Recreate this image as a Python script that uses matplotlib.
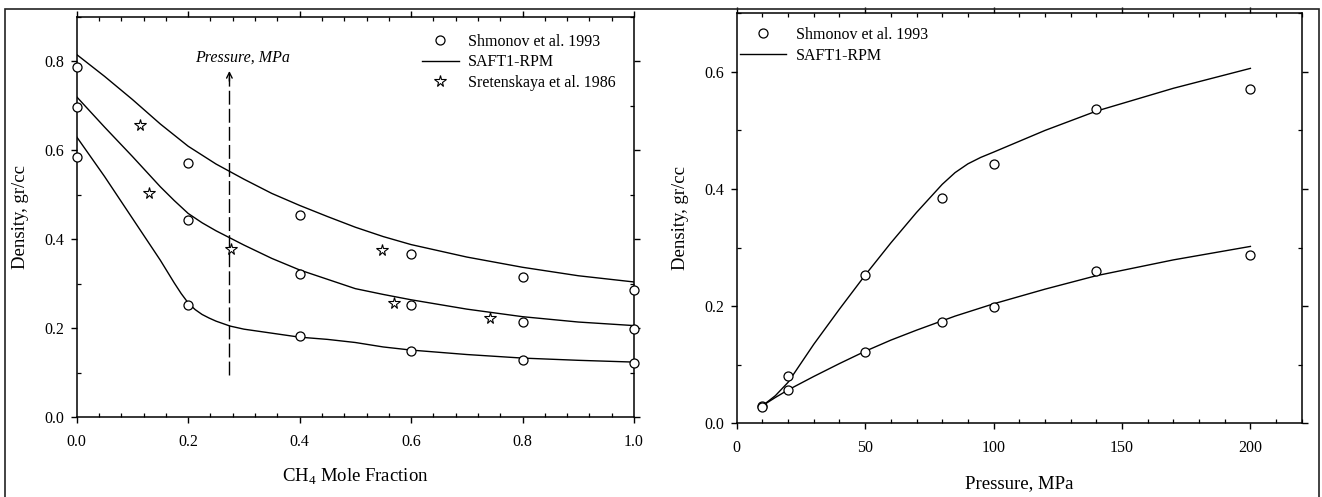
import matplotlib
matplotlib.use("Agg")
import matplotlib.pyplot as plt
from matplotlib.lines import Line2D
from matplotlib.patches import Rectangle
from matplotlib.ticker import MultipleLocator, FormatStrFormatter

plt.rcParams['font.family'] = ['Liberation Serif', 'DejaVu Serif']
plt.rcParams['mathtext.fontset'] = 'custom'
plt.rcParams['mathtext.rm'] = 'Liberation Serif'

# left panel: density vs CH4 mole fraction
x_exp = [0.0, 0.2, 0.4, 0.6, 0.8, 1.0]
rho_hi = [0.787, 0.571, 0.455, 0.366, 0.316, 0.286]
rho_mid = [0.696, 0.443, 0.321, 0.252, 0.214, 0.198]
rho_lo = [0.585, 0.253, 0.182, 0.148, 0.129, 0.121]

x_star = [0.113, 0.130, 0.277, 0.548, 0.570, 0.741]
rho_star = [0.657, 0.503, 0.379, 0.375, 0.256, 0.223]

x_hi = [0.0, 0.05, 0.1, 0.15, 0.2, 0.25, 0.3, 0.35, 0.4, 0.45, 0.5, 0.55, 0.6,
        0.7, 0.8, 0.9, 1.0]
saft_hi = [0.815, 0.766, 0.714, 0.659, 0.609, 0.569, 0.535, 0.503, 0.476, 0.451,
           0.427, 0.406, 0.388, 0.360, 0.337, 0.318, 0.304]

x_mid = [0.0, 0.05, 0.1, 0.15, 0.175, 0.2, 0.225, 0.25, 0.3, 0.35, 0.4, 0.45,
         0.5, 0.55, 0.6, 0.7, 0.8, 0.9, 1.0]
saft_mid = [0.720, 0.652, 0.586, 0.518, 0.487, 0.458, 0.437, 0.419, 0.387, 0.357,
            0.331, 0.310, 0.289, 0.276, 0.264, 0.243, 0.226, 0.214, 0.206]

x_lo = [0.0, 0.05, 0.1, 0.15, 0.175, 0.1875, 0.2, 0.2125, 0.225, 0.2375, 0.25,
        0.275, 0.3, 0.35, 0.4, 0.45, 0.5, 0.55, 0.6, 0.7, 0.8, 0.9, 1.0]
saft_lo = [0.630, 0.541, 0.447, 0.353, 0.302, 0.278, 0.257, 0.242, 0.231, 0.223,
           0.216, 0.205, 0.198, 0.189, 0.180, 0.175, 0.168, 0.158, 0.151, 0.141,
           0.133, 0.128, 0.124]

# right panel: density vs pressure
p_exp = [10, 20, 50, 80, 100, 140, 200]
dens_hi = [0.030, 0.080, 0.253, 0.385, 0.443, 0.536, 0.570]
dens_lo = [0.027, 0.056, 0.122, 0.173, 0.199, 0.260, 0.287]

p_model = [10, 15, 20, 30, 40, 50, 60, 70, 80, 85, 90, 95, 100, 120, 140, 170, 200]
model_hi = [0.030, 0.047, 0.070, 0.135, 0.195, 0.253, 0.308, 0.360, 0.408, 0.428,
            0.443, 0.454, 0.463, 0.500, 0.533, 0.572, 0.606]
model_lo = [0.030, 0.044, 0.057, 0.080, 0.102, 0.123, 0.142, 0.159, 0.175, 0.183,
            0.190, 0.197, 0.204, 0.229, 0.252, 0.279, 0.302]

fig = plt.figure(figsize=(13.22, 4.97), dpi=100)
ax1 = fig.add_axes([0.0580, 0.1604, 0.4216, 0.8060])
ax2 = fig.add_axes([0.5573, 0.1483, 0.4274, 0.8249])

fig.patches.append(Rectangle((0.0038, -0.01), 0.9939, 0.9919, transform=fig.transFigure,
                             fill=False, lw=1.2, ec='#222222'))

circ = dict(ls='none', marker='o', ms=6.5, mfc='white', mec='black', mew=0.9, clip_on=False, zorder=3)
star = dict(ls='none', marker='*', ms=8.5, mfc='white', mec='black', mew=0.8, clip_on=False, zorder=3)
line = dict(color='black', lw=1.0)

ax1.plot(x_hi, saft_hi, **line)
ax1.plot(x_mid, saft_mid, **line)
ax1.plot(x_lo, saft_lo, **line)
for ys in (rho_hi, rho_mid, rho_lo):
    ax1.plot(x_exp, ys, **circ)
ax1.plot(x_star, rho_star, **star)

# pressure arrow
ax1.plot([0.274, 0.274], [0.095, 0.765], color='black', lw=1.0, ls=(0, (10, 3)))
ax1.annotate('', xy=(0.274, 0.778), xytext=(0.274, 0.755),
             arrowprops=dict(arrowstyle='->', lw=1.0, color='black', shrinkA=0, shrinkB=0))
ax1.text(0.298, 0.80, 'Pressure, MPa', style='italic', fontsize=11.5,
         ha='center', va='baseline')

ax1.set_xlim(0, 1.0)
ax1.set_ylim(0, 0.9)
ax1.xaxis.set_major_locator(MultipleLocator(0.2))
ax1.xaxis.set_minor_locator(MultipleLocator(0.04))
ax1.yaxis.set_major_locator(MultipleLocator(0.2))
ax1.yaxis.set_minor_locator(MultipleLocator(0.1))
ax1.xaxis.set_major_formatter(FormatStrFormatter('%.1f'))
ax1.yaxis.set_major_formatter(FormatStrFormatter('%.1f'))
ax1.set_xlabel(r'CH$_4$ Mole Fraction', fontsize=13.5, labelpad=12)
ax1.set_ylabel('Density, gr/cc', fontsize=13.5, labelpad=11)

h_left = [Line2D([], [], **circ), Line2D([], [], **line), Line2D([], [], **star)]
ax1.legend(h_left, ['Shmonov et al. 1993', 'SAFT1-RPM', 'Sretenskaya et al. 1986'],
           loc='upper left', bbox_to_anchor=(0.619, 0.957), frameon=False, fontsize=11.5,
           borderpad=0, borderaxespad=0, handlelength=2.35, handletextpad=0.55,
           labelspacing=0.28)

ax2.plot(p_model, model_hi, **line)
ax2.plot(p_model, model_lo, **line)
for ys in (dens_hi, dens_lo):
    ax2.plot(p_exp, ys, **circ)

ax2.set_xlim(0, 220)
ax2.set_ylim(0, 0.7)
ax2.xaxis.set_major_locator(MultipleLocator(50))
ax2.xaxis.set_minor_locator(MultipleLocator(10))
ax2.yaxis.set_major_locator(MultipleLocator(0.2))
ax2.yaxis.set_minor_locator(MultipleLocator(0.1))
ax2.yaxis.set_major_formatter(FormatStrFormatter('%.1f'))
ax2.set_xlabel('Pressure, MPa', fontsize=13.5, labelpad=14)
ax2.set_ylabel('Density, gr/cc', fontsize=13.5, labelpad=11)

h_right = [Line2D([], [], **circ), Line2D([], [], **line)]
ax2.legend(h_right, ['Shmonov et al. 1993', 'SAFT1-RPM'],
           loc='upper left', bbox_to_anchor=(0.006, 0.967), frameon=False, fontsize=11.5,
           borderpad=0, borderaxespad=0, handlelength=2.9, handletextpad=0.6,
           labelspacing=0.3)

for ax in (ax1, ax2):
    for s in ax.spines.values():
        s.set_linewidth(1.1)
    ax.tick_params(which='major', direction='out', length=4, width=1.0, labelsize=11.5,
                   top=True, right=True, pad=8)
    ax.tick_params(which='minor', direction='in', length=3, width=0.9, top=True, right=True)
    ax.tick_params(axis='y', which='major', pad=5)

fig.savefig('out.png', dpi=100)
